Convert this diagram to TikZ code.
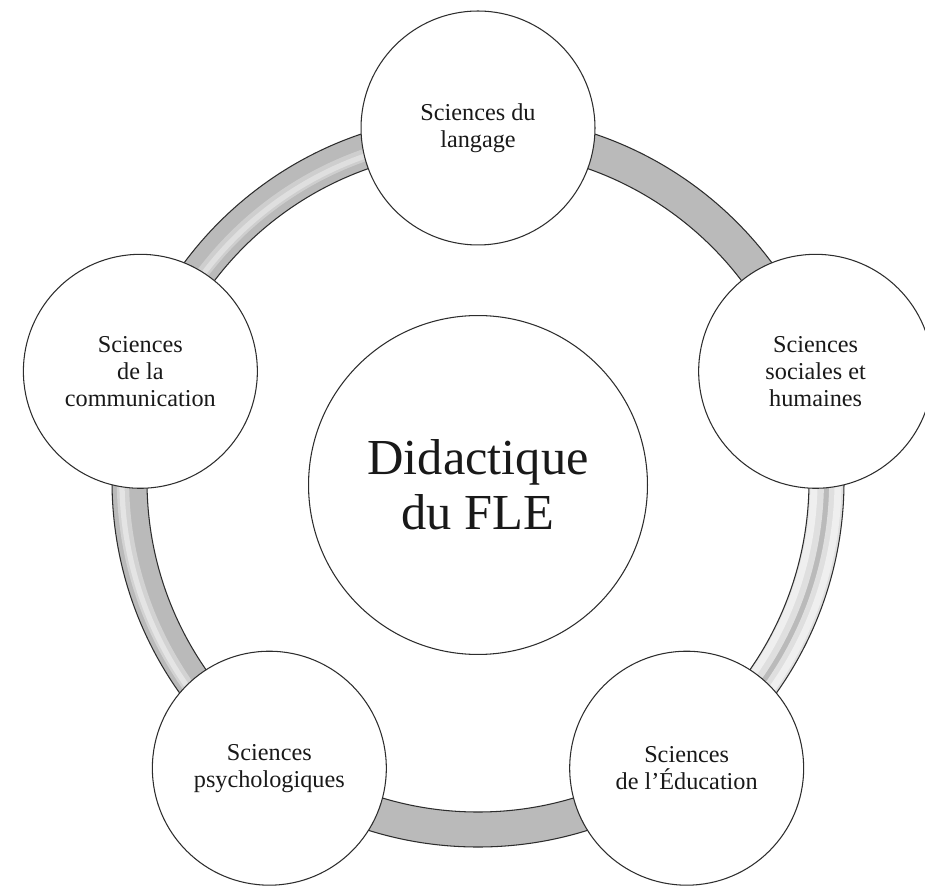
\documentclass[tikz,border=0pt]{standalone}
\usepackage{fontspec}
\setmainfont{Liberation Serif}
\usetikzlibrary{calc}
\definecolor{ringgray}{RGB}{186,186,186}
\definecolor{inkline}{RGB}{45,45,45}
\definecolor{txt}{RGB}{25,25,25}
\tikzset{
  satellite/.style={circle, draw=inkline, line width=0.6pt, fill=white, minimum size=4.68cm, inner sep=0pt, align=center, text=txt, font=\fontsize{13.8}{15.4}\selectfont},
  hub/.style={circle, draw=inkline, line width=0.6pt, fill=white, minimum size=6.78cm, inner sep=0pt, align=center, text=txt, font=\fontsize{28.7}{31.2}\selectfont},
  ringedge/.style={draw=inkline, line width=0.6pt},
  glow/.style={white, line cap=butt}
}
\begin{document}
\begin{tikzpicture}[x=0.02cm,y=0.02cm]
\useasboundingbox (0,0) rectangle (925,889);
\fill[white] (0,0) rectangle (925,889);
\coordinate (c) at (478,408);
% ring
\fill[ringgray, even odd rule] (c) circle (366) (c) circle (331);
% highlights: right segment (white - gray - white)
\draw[glow, opacity=0.55, line width=9pt] ($(c)+(-60:338)$) arc[start angle=-60, end angle=24, radius=338];
\draw[glow, opacity=0.55, line width=9pt] ($(c)+(-60:359)$) arc[start angle=-60, end angle=24, radius=359];
\draw[glow, opacity=0.5, line width=4pt] ($(c)+(-60:336)$) arc[start angle=-60, end angle=24, radius=336];
\draw[glow, opacity=0.5, line width=4pt] ($(c)+(-60:360)$) arc[start angle=-60, end angle=24, radius=360];
% left segment: light stripe near outer edge
\draw[glow, opacity=0.35, line width=7pt] ($(c)+(156:355)$) arc[start angle=156, end angle=240, radius=355];
\draw[glow, opacity=0.4, line width=3pt] ($(c)+(156:356)$) arc[start angle=156, end angle=240, radius=356];
% top-left segment: soft stripe in the middle
\draw[glow, opacity=0.3, line width=7pt] ($(c)+(84:345)$) arc[start angle=84, end angle=168, radius=345];
\draw[glow, opacity=0.35, line width=3pt] ($(c)+(84:344)$) arc[start angle=84, end angle=168, radius=344];
\draw[ringedge] (c) circle (366);
\draw[ringedge] (c) circle (331);
% nodes
\node[hub] (hub) at ($(c)+(0,-4)$) {Didactique\\du FLE};
\node[satellite] (lang) at ($(c)+(90:353)$) {Sciences du\\langage};
\node[satellite] (soc) at ($(c)+(18:355)$) {Sciences\\sociales et\\humaines};
\node[satellite] (edu) at ($(c)+(-54:355)$) {Sciences\\de l’Éducation};
\node[satellite] (psy) at ($(c)+(-126:355)$) {Sciences\\psychologiques};
\node[satellite] (com) at ($(c)+(162:355)$) {Sciences\\de la\\communication};
\end{tikzpicture}
\end{document}
